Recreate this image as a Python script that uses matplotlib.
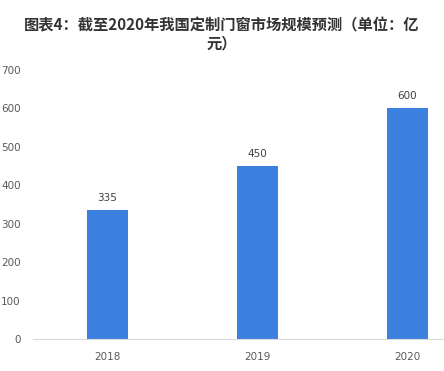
import matplotlib
matplotlib.use("Agg")
import matplotlib.pyplot as plt

categories = ["2018", "2019", "2020"]
values = [335, 450, 600]
yticks = [0, 100, 200, 300, 400, 500, 600, 700]
title = "图表4：截至2020年我国定制门窗市场规模预测（单位：亿\n元）"

plt.rcParams['font.family'] = ['Noto Sans CJK SC', 'DejaVu Sans']

fig = plt.figure(figsize=(4.44, 3.71), dpi=100)
ax = fig.add_axes([32.5/444, 32/371, 450/444, 269/371])

x = range(len(categories))
bars = ax.bar(x, values, width=0.275, color="#3C80E0", zorder=2)
for xi, v in zip(x, values):
    ax.annotate(str(v), (xi, v), xytext=(0, 5), textcoords="offset points",
                ha="center", va="bottom", fontsize=7.5, color="#404040",
                family=['DejaVu Sans'])

ax.set_xlim(-0.5, 2.5)
ax.set_ylim(0, 700)
ax.set_yticks(yticks)
ax.set_yticklabels([str(t) for t in yticks], family=['DejaVu Sans'])
ax.set_xticks(list(x))
ax.set_xticklabels(categories, family=['DejaVu Sans'])
ax.tick_params(axis='y', length=0, pad=8.5, labelsize=7.5, labelcolor="#595959")
ax.tick_params(axis='x', length=0, pad=9, labelsize=7.5, labelcolor="#595959")
for s in ["top", "right", "left"]:
    ax.spines[s].set_visible(False)
ax.spines["bottom"].set_color("#D9D9D9")
ax.spines["bottom"].set_linewidth(0.8)

fig.text(222/444, 1 - 34.5/371, title, ha="center", va="center", fontsize=11,
         fontweight="bold", color="#333333", linespacing=1.15)

fig.savefig("out.png", dpi=100)
